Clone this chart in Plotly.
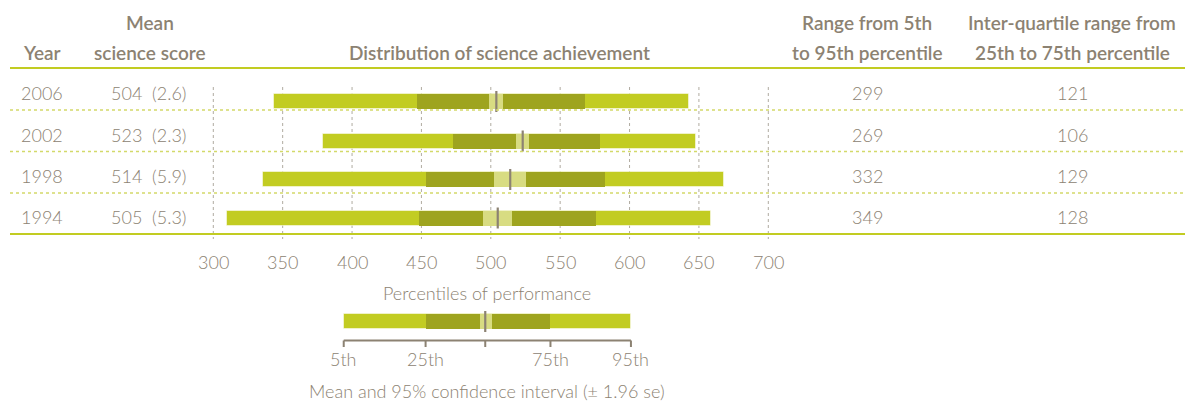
import plotly.graph_objects as go

# ---- data ----
years = ['2006', '2002', '1998', '1994']
mean_score = [504, 523, 514, 505]
mean_se = [2.6, 2.3, 5.9, 5.3]
p5 = [344, 379, 336, 310]
p25 = [447, 473, 453, 448]
p75 = [568, 579, 582, 576]
p95 = [643, 648, 668, 659]
range_5_95 = [299, 269, 332, 349]
iqr_25_75 = [121, 106, 129, 128]
axis_ticks = [300, 350, 400, 450, 500, 550, 600, 650, 700]

# schematic key bar (score units on the same axis)
key_labels = ['5th', '25th', '75th', '95th']
key_vals = [394, 453, 543, 601]
key_mean = 496
key_ci = [492, 501]

# ---- styling ----
LIGHT = '#c2cc22'
DARK = '#9ea41f'
CI = '#d8dc82'
MEAN = '#8c8272'
TEXT = '#8c8272'
GREEN_LINE = '#c2cc22'
FONT = 'Lato'

W, H = 1185, 405
PX_PER_UNIT = 1.3875
X300 = 213.3
x_lo = 300 - X300 / PX_PER_UNIT
x_hi = x_lo + W / PX_PER_UNIT

bar_y = [101.5, 141, 179.5, 218]
text_y = [93, 135, 176, 217]
sep_y = [110, 151.5, 193]
BAR_H = 15

ci_lo = [m - 1.96 * s for m, s in zip(mean_score, mean_se)]
ci_hi = [m + 1.96 * s for m, s in zip(mean_score, mean_se)]

fig = go.Figure()


def add_segments(y, lo5, lo25, hi75, hi95, clo, chi, mean):
    fig.add_trace(go.Bar(y=y, base=lo5, x=[b - a for a, b in zip(lo5, hi95)],
                         orientation='h', width=BAR_H, marker_color=LIGHT,
                         marker_line=dict(color='rgba(255,255,255,0.5)', width=1)))
    fig.add_trace(go.Bar(y=y, base=lo25, x=[b - a for a, b in zip(lo25, hi75)],
                         orientation='h', width=BAR_H, marker_color=DARK,
                         marker_line_width=0))
    fig.add_trace(go.Bar(y=y, base=clo, x=[b - a for a, b in zip(clo, chi)],
                         orientation='h', width=BAR_H, marker_color=CI,
                         marker_line_width=0))
    fig.add_trace(go.Scatter(y=y, x=mean, mode='markers',
                             marker=dict(symbol='line-ns', size=BAR_H,
                                         line=dict(color=MEAN, width=2.2))))


add_segments(bar_y, p5, p25, p75, p95, ci_lo, ci_hi, mean_score)
add_segments([321.5], [key_vals[0]], [key_vals[1]], [key_vals[2]], [key_vals[3]],
             [key_ci[0]], [key_ci[1]], [key_mean])

shapes = []
# vertical dotted grid
for t in axis_ticks:
    shapes.append(dict(type='line', xref='x', yref='y', x0=t, x1=t,
                       y0=87, y1=239, layer='below',
                       line=dict(color='#b0aba0', width=1, dash='dot')))
# header / bottom lines
for yy in [68, 234]:
    shapes.append(dict(type='line', xref='paper', yref='y', x0=10 / W, x1=1,
                       y0=yy, y1=yy, line=dict(color=GREEN_LINE, width=2)))
for yy in sep_y:
    shapes.append(dict(type='line', xref='paper', yref='y', x0=10 / W, x1=1,
                       y0=yy, y1=yy, line=dict(color='#d3d96a', width=1.5, dash='dot')))
# key axis
shapes.append(dict(type='line', xref='x', yref='y', x0=key_vals[0], x1=key_vals[-1],
                   y0=340.5, y1=340.5, line=dict(color=MEAN, width=2)))
for v in key_vals[:2] + [key_mean] + key_vals[2:]:
    shapes.append(dict(type='line', xref='x', yref='y', x0=v, x1=v,
                       y0=340.5, y1=347, line=dict(color=MEAN, width=2)))

ann = []


def txt(x, y, s, size=18, weight=300, xref='paper'):
    ann.append(dict(x=x / W if xref == 'paper' else x, y=y, xref=xref, yref='y',
                    text=s, showarrow=False, xanchor='center', yanchor='middle',
                    font=dict(family=FONT, size=size, color=TEXT, weight=weight)))


# header
HS, HW = 19, 600
txt(42, 52, 'Year', HS, HW)
txt(150, 22, 'Mean', HS, HW)
txt(150, 52, 'science score', HS, HW)
txt(499, 52, 'Distribution of science achievement', HS, HW)
txt(867, 22, 'Range from 5th', HS, HW)
txt(867, 52, 'to 95th percentile', HS, HW)
txt(1072, 22, 'Inter-quartile range from', HS, HW)
txt(1072, 52, '25th to 75th percentile', HS, HW)

for i, yr in enumerate(years):
    txt(42, text_y[i], yr)
    txt(148, text_y[i], f'{mean_score[i]}  ({mean_se[i]})')
    txt(867, text_y[i], str(range_5_95[i]))
    txt(1072, text_y[i], str(iqr_25_75[i]))

for t in axis_ticks:
    txt(t, 262, str(t), xref='x')
txt(487, 293, 'Percentiles of performance')
for lab, v in zip(key_labels, key_vals):
    txt(v, 359, lab, xref='x')
txt(487, 391, 'Mean and 95% confidence interval (± 1.96 se)')

fig.update_layout(
    width=W, height=H,
    margin=dict(l=0, r=0, t=0, b=0),
    paper_bgcolor='white', plot_bgcolor='white',
    barmode='overlay', bargap=0, showlegend=False,
    xaxis=dict(range=[x_lo, x_hi], visible=False, fixedrange=True),
    yaxis=dict(range=[H, 0], visible=False, fixedrange=True),
    shapes=shapes, annotations=ann,
)

fig.write_html('out.html', config={'displayModeBar': False},
               post_script="document.body.style.margin='0';")
